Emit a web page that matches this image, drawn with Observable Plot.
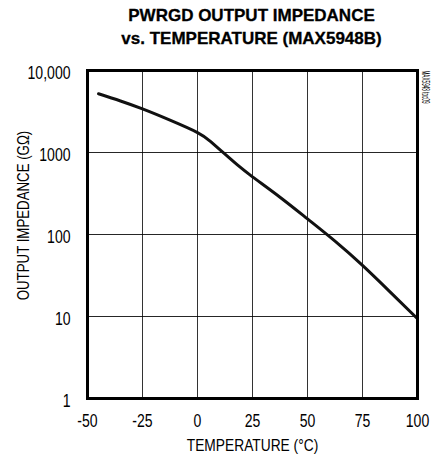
<!DOCTYPE html>
<html><head><meta charset="utf-8">
<script src="https://cdn.jsdelivr.net/npm/d3@7"></script>
<script src="https://cdn.jsdelivr.net/npm/@observablehq/plot@0.6"></script>
<style>
body{margin:0;background:#fff;width:441px;}
#title{height:62px;box-sizing:border-box;padding-top:4px;padding-left:62px;text-align:center;font-family:"Liberation Sans",Arial,sans-serif;font-weight:bold;font-size:17px;line-height:23px;color:#000;-webkit-text-stroke:0.3px #000;}
svg{display:block;}
</style></head><body>
<div id="title">PWRGD OUTPUT IMPEDANCE<br>vs. TEMPERATURE (MAX5948B)</div>
<div id="chart"></div>
<script>
const temperature = [-45, -35, -25, -12.5, 0, 6, 12, 18, 25, 37.5, 50, 62.5, 75, 87.5, 100];
const impedance   = [5200, 4250, 3400, 2480, 1750, 1360, 980, 710, 505, 285, 155, 83, 42, 20, 9.4];
const xTicks = [-50, -25, 0, 25, 50, 75, 100];
const yTicks = [1, 10, 100, 1000, 10000];
const yTickLabels = ["1", "10", "100", "1000", "10,000"];
const xLabel = "TEMPERATURE (°C)";
const yLabel = "OUTPUT IMPEDANCE (GΩ)";
const codeLabel = "MAX5948 toc09";

const data = temperature.map((t, i) => ({t, v: impedance[i]}));
const font = '"Liberation Sans",Arial,sans-serif';

const chart = Plot.plot({
  width: 441, height: 398,
  marginTop: 8, marginBottom: 62, marginLeft: 87, marginRight: 24,
  style: {fontFamily: font, fontSize: "18px", color: "#000", background: "#fff"},
  x: {domain: [-50, 100], ticks: xTicks},
  y: {type: "log", domain: [1, 10000], ticks: yTicks},
  marks: [
    Plot.gridX(xTicks, {stroke: "#000", strokeOpacity: 0.8, strokeWidth: 1}),
    Plot.gridY(yTicks, {stroke: "#000", strokeOpacity: 0.85, strokeWidth: 1}),
    Plot.axisX(xTicks, {tickSize: 0, tickPadding: 16, fontSize: 18, label: null, tickFormat: d => String(d)}),
    Plot.axisY(yTicks, {tickSize: 0, tickPadding: 17, fontSize: 18, label: null, dy: 3,
      tickFormat: d => yTickLabels[yTicks.indexOf(d)]}),
    Plot.text([xLabel], {frameAnchor: "bottom", lineAnchor: "middle", textAnchor: "middle", dy: 47, fontSize: 17, text: d => d}),
    Plot.text([yLabel], {frameAnchor: "left", lineAnchor: "middle", textAnchor: "middle", rotate: -90, dx: -64, dy: -19, fontSize: 17, text: d => d}),
    Plot.text([codeLabel], {frameAnchor: "top-right", rotate: 90, dx: 8, textAnchor: "start", lineAnchor: "middle", fontSize: 10, text: d => d}),
    Plot.line(data, {x: "t", y: "v", curve: "natural", stroke: "#111", strokeWidth: 3}),
    Plot.frame({stroke: "#000", strokeWidth: 3})
  ]
});
document.getElementById("chart").appendChild(chart);

// condense text to mimic a narrow typeface
chart.querySelectorAll("text").forEach(t => {
  const len = t.getComputedTextLength();
  const target = t.textContent === codeLabel ? 33 : len * (t.textContent === xLabel ? 0.81 : 0.78);
  t.setAttribute("textLength", target);
  t.setAttribute("lengthAdjust", "spacingAndGlyphs");
});
</script>
</body></html>
